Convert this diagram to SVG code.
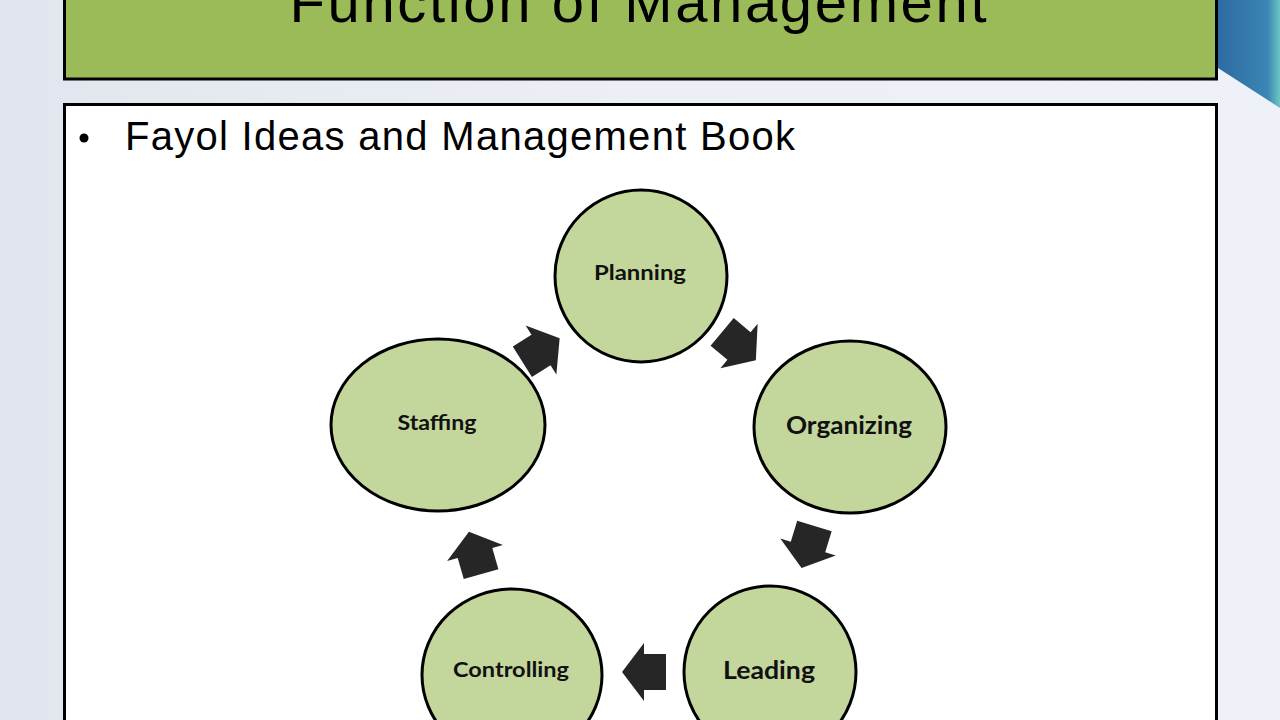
<svg xmlns="http://www.w3.org/2000/svg" width="1280" height="720" viewBox="0 0 1280 720">
<defs>
<linearGradient id="bg" x1="0" y1="0" x2="1" y2="0">
<stop offset="0" stop-color="#e1e6ee"/>
<stop offset="0.5" stop-color="#eceff5"/>
<stop offset="1" stop-color="#eef1f8"/>
</linearGradient>
<linearGradient id="deco" x1="0" y1="0" x2="1" y2="0">
<stop offset="0" stop-color="#2e6aa3"/>
<stop offset="0.8" stop-color="#3b86b4"/>
<stop offset="1" stop-color="#6cc6c4"/>
</linearGradient>
<polygon id="arr" points="-22,-18 0,-18 0,-29 22,0 0,29 0,18 -22,18"/>
</defs>
<style>
.node ellipse{fill:#c3d69b;stroke:#000;stroke-width:3}
.node text{font-family:Lato,"Open Sans","Noto Sans",sans-serif;font-weight:bold;fill:#111;text-anchor:middle}
.conn use{fill:#262626}
</style>
<rect width="1280" height="720" fill="url(#bg)"/>
<polygon points="1218,0 1280,0 1280,108 1218,68" fill="url(#deco)"/>
<g id="title">
<rect x="64.5" y="-10" width="1152" height="89" fill="#9bbb59" stroke="#000" stroke-width="3"/>
<text x="638" y="22" font-family="'Liberation Sans',Arial,sans-serif" font-size="58" text-anchor="middle" textLength="697" fill="#000">Function of Management</text>
</g>
<g id="content">
<rect x="64.5" y="104.5" width="1152" height="640" fill="#fff" stroke="#000" stroke-width="3"/>
<circle cx="84" cy="138" r="4.5" fill="#000"/>
<text x="125" y="150" font-family="'Liberation Sans',Arial,sans-serif" font-size="40" textLength="670" fill="#000">Fayol Ideas and Management Book</text>
</g>
<g id="connectors" class="conn">
<use href="#arr" transform="translate(541,350) rotate(-32)"/>
<use href="#arr" transform="translate(739,346) rotate(40)"/>
<use href="#arr" transform="translate(808,547) rotate(107)"/>
<use href="#arr" transform="translate(644,672) rotate(180)"/>
<use href="#arr" transform="translate(475,553) rotate(-106)"/>
</g>
<g id="planning" class="node">
<ellipse cx="641" cy="276" rx="86" ry="86"/>
<text x="640" y="280" font-size="20" textLength="92" lengthAdjust="spacingAndGlyphs">Planning</text>
</g>
<g id="organizing" class="node">
<ellipse cx="850" cy="427" rx="96" ry="86"/>
<text x="849" y="434" font-size="24" textLength="126" lengthAdjust="spacingAndGlyphs">Organizing</text>
</g>
<g id="leading" class="node">
<ellipse cx="770" cy="672" rx="86" ry="86"/>
<text x="769" y="679" font-size="24" textLength="92" lengthAdjust="spacingAndGlyphs">Leading</text>
</g>
<g id="controlling" class="node">
<ellipse cx="512" cy="675" rx="90" ry="86"/>
<text x="511" y="677" font-size="20" textLength="116" lengthAdjust="spacingAndGlyphs">Controlling</text>
</g>
<g id="staffing" class="node">
<ellipse cx="438" cy="425" rx="107" ry="86"/>
<text x="437" y="430" font-size="20" textLength="79" lengthAdjust="spacingAndGlyphs">Staffing</text>
</g>
</svg>
